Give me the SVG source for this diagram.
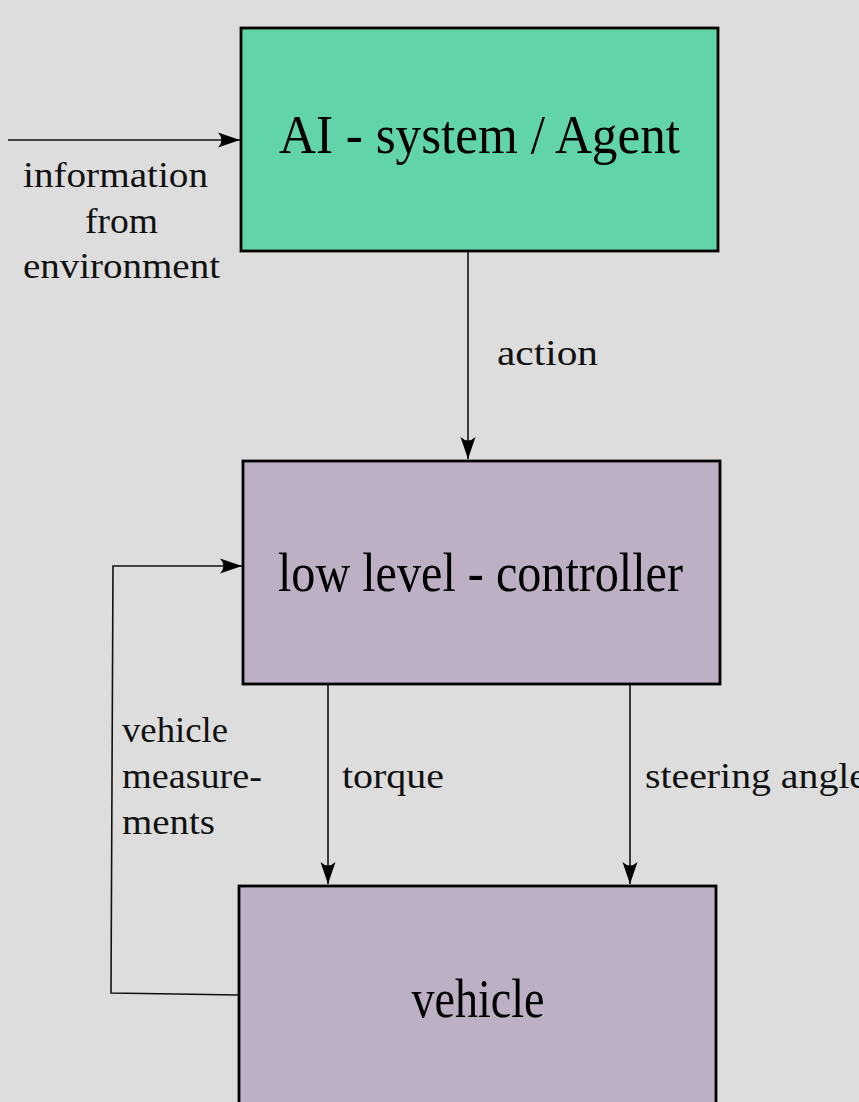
<svg xmlns="http://www.w3.org/2000/svg" width="859" height="1102" viewBox="0 0 859 1102">
<style>
.box{stroke:#000;stroke-width:2.8}
.title{font-family:"Liberation Serif","DejaVu Serif",serif;font-size:55px;fill:#000;text-anchor:middle}
.lbl{font-family:"Liberation Serif","DejaVu Serif",serif;font-size:35px;fill:#111}
.conn{fill:none;stroke:#111;stroke-width:1.6}
</style>
<defs>
<marker id="ah" markerUnits="userSpaceOnUse" markerWidth="24" markerHeight="16" refX="22" refY="8" orient="auto">
<path d="M0,0.5 Q7,8 0,15.5 L22,8 Z" fill="#000"/>
</marker>
</defs>
<rect width="859" height="1102" fill="#dddddd"/>
<g id="agent">
<rect class="box" x="241" y="28" width="477" height="223" fill="#61d4aa"/>
<text class="title" x="479.5" y="153" textLength="401" lengthAdjust="spacingAndGlyphs">AI - system / Agent</text>
</g>
<g id="controller">
<rect class="box" x="243" y="461" width="477" height="223" fill="#beb0c4"/>
<text class="title" x="480.5" y="591" textLength="405" lengthAdjust="spacingAndGlyphs">low level - controller</text>
</g>
<g id="vehicle">
<rect class="box" x="239" y="886" width="477" height="230" fill="#beb0c4"/>
<text class="title" x="478" y="1017" textLength="133" lengthAdjust="spacingAndGlyphs">vehicle</text>
</g>
<g id="connectors">
<line class="conn" x1="8" y1="140" x2="240" y2="140" marker-end="url(#ah)"/>
<line class="conn" x1="468" y1="251" x2="468" y2="459" marker-end="url(#ah)"/>
<line class="conn" x1="328" y1="685" x2="328" y2="884" marker-end="url(#ah)"/>
<line class="conn" x1="630" y1="685" x2="630" y2="884" marker-end="url(#ah)"/>
<path class="conn" d="M239,995 L111,993 L113,566 L242,566" marker-end="url(#ah)"/>
</g>
<g id="labels">
<text class="lbl" x="23" y="187" textLength="185" lengthAdjust="spacingAndGlyphs">information</text>
<text class="lbl" x="85" y="233" textLength="73" lengthAdjust="spacingAndGlyphs">from</text>
<text class="lbl" x="23" y="278" textLength="197" lengthAdjust="spacingAndGlyphs">environment</text>
<text class="lbl" x="497" y="365" textLength="101" lengthAdjust="spacingAndGlyphs">action</text>
<text class="lbl" x="342" y="788" textLength="102" lengthAdjust="spacingAndGlyphs">torque</text>
<text class="lbl" x="645" y="788" textLength="222" lengthAdjust="spacingAndGlyphs">steering angle</text>
<text class="lbl" x="122" y="742" textLength="106" lengthAdjust="spacingAndGlyphs">vehicle</text>
<text class="lbl" x="122" y="788" textLength="140" lengthAdjust="spacingAndGlyphs">measure-</text>
<text class="lbl" x="122" y="834" textLength="93" lengthAdjust="spacingAndGlyphs">ments</text>
</g>
</svg>
